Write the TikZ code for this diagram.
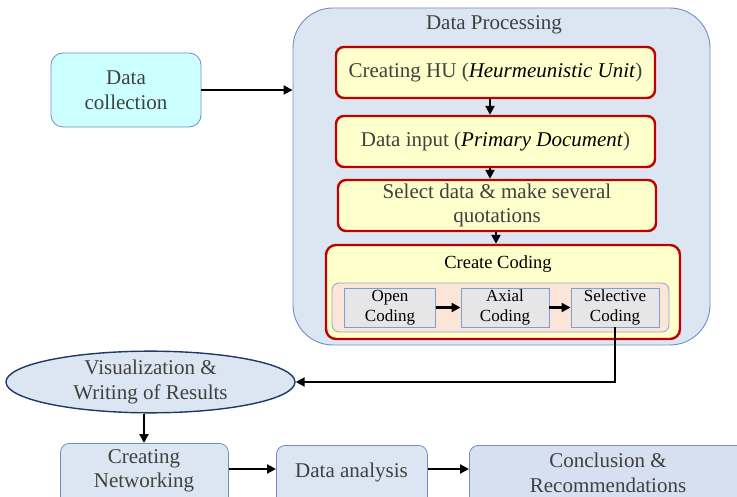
\documentclass[tikz,border=0pt]{standalone}
\usepackage{fontspec}
\setmainfont{Liberation Serif}
\usetikzlibrary{arrows.meta,shapes.geometric}
\definecolor{dpfill}{HTML}{DCE6F2}
\definecolor{dpline}{HTML}{6F8FC4}
\definecolor{cyanfill}{HTML}{CCFFFF}
\definecolor{yelfill}{HTML}{FFFFCC}
\definecolor{redline}{HTML}{C00000}
\definecolor{peach}{HTML}{FBE4D8}
\definecolor{peachline}{HTML}{8FA6CF}
\definecolor{codefill}{HTML}{E6E6E6}
\definecolor{codeline}{HTML}{7F9FD0}
\definecolor{navy}{HTML}{1F3864}
\definecolor{txtgray}{HTML}{404040}
\definecolor{concfill}{HTML}{D6E0F0}
\tikzset{
  big/.style={font=\fontsize{21}{24.5}\selectfont, text=txtgray, align=center},
  bluebox/.style={draw=dpline, fill=dpfill, rounded corners=9pt, line width=0.8pt, big},
  yelbox/.style={draw=redline, fill=yelfill, rounded corners=8pt, line width=2.4pt, big},
  codebox/.style={draw=codeline, fill=codefill, line width=0.9pt, align=center,
     font=\fontsize{17}{19.5}\selectfont, text=black, minimum width=91pt, minimum height=39pt, inner sep=0pt},
  arr/.style={-{Triangle[length=9pt,width=9pt]}, line width=2.2pt, black},
}
\begin{document}
\begin{tikzpicture}[x=1pt,y=-1pt]
\useasboundingbox (0,0) rectangle (737,497);
% Data Processing container
\node[draw=dpline, fill=dpfill, rounded corners=40pt, line width=0.9pt,
  minimum width=417pt, minimum height=337pt, inner sep=0pt] (dp) at (501.5,176.5) {};
\node[big] (dptitle) at (494,25) {Data Processing};
% Data collection
\node[bluebox, fill=cyanfill, rounded corners=12pt, minimum width=150pt, minimum height=74pt, inner sep=0pt] (dc) at (126,90) {Data\\collection};
% steps
\node[yelbox, minimum width=319pt, minimum height=51pt, inner sep=0pt] (hu) at (495.5,72.5)
  {Creating HU (\textcolor{black}{\textit{Heurmeunistic Unit}})};
\node[yelbox, minimum width=319pt, minimum height=51pt, inner sep=0pt] (di) at (495.5,141.5)
  {Data input (\textcolor{black}{\textit{Primary Document}})};
\node[yelbox, minimum width=318pt, minimum height=51pt, inner sep=0pt] (sd) at (497,205.5)
  {Select data \& make several\\quotations};
% Create coding
\node[yelbox, minimum width=354pt, minimum height=94pt, inner sep=0pt, rounded corners=10pt] (cc) at (503,292) {};
\node[font=\fontsize{18.5}{20}\selectfont, text=black] (cctitle) at (498,264) {Create Coding};
\node[draw=peachline, fill=peach, rounded corners=7pt, line width=0.8pt,
  minimum width=337pt, minimum height=49pt, inner sep=0pt] (inner) at (500.5,307.5) {};
\node[codebox] (open) at (390,307.5) {Open\\Coding};
\node[codebox, minimum width=88pt] (axial) at (505,307.5) {Axial\\Coding};
\node[codebox, minimum width=88pt] (sel) at (615,307.5) {Selective\\Coding};
% Visualization ellipse
\node[ellipse, draw=navy, fill=dpfill, line width=1.4pt, minimum width=289pt, minimum height=56pt,
  inner sep=0pt, big] (vis) at (150.5,382) {Visualization \&\\Writing of Results};
% bottom row
\node[bluebox, rounded corners=9pt, minimum width=168pt, minimum height=64pt, inner sep=0pt,
  anchor=north west] (net) at (60,443) {};
\node[big] (nettext) at (144,471) {Creating\\Networking};
\node[bluebox, rounded corners=9pt, minimum width=151pt, minimum height=62pt, inner sep=0pt,
  anchor=north west] (da) at (276,445) {};
\node[big] (datext) at (351.5,472) {Data analysis};
\node[bluebox, fill=concfill, rounded corners=9pt, minimum width=280pt, minimum height=62pt, inner sep=0pt,
  anchor=north west] (conc) at (469,445) {};
\node[big] (conctext) at (608,473) {Conclusion \&\\Recommendations};
% connectors
\draw[arr] (dc.east) -- (dc.east -| dp.west);
\draw[arr] (hu.south -| 490,0) -- (di.north -| 490,0);
\draw[arr] (di.south -| 490,0) -- (sd.north -| 490,0);
\draw[arr] (sd.south -| 496,0) -- (cc.north -| 496,0);
\draw[arr] (open.east) -- (axial.west);
\draw[arr] (axial.east) -- (sel.west);
\draw[arr] (sel.south) -- (sel.south |- vis.east) -- (vis.east);
\draw[arr] (vis.south -| 144,0) -- (net.north -| 144,0);
\draw[arr] (net.east |- 0,469) -- (da.west |- 0,469);
\draw[arr] (da.east |- 0,469) -- (conc.west |- 0,469);
\end{tikzpicture}
\end{document}
